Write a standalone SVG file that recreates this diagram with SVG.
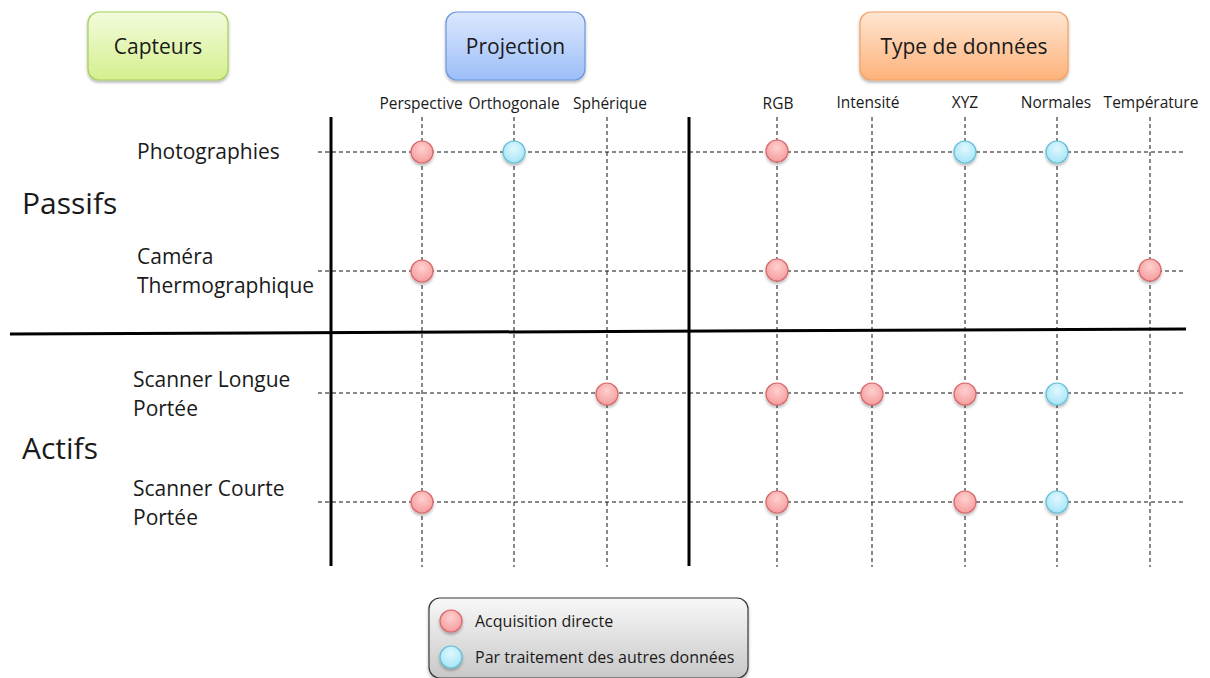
<svg xmlns="http://www.w3.org/2000/svg" width="1210" height="678" viewBox="0 0 1210 678">
<defs>
<linearGradient id="gGreen" x1="0" y1="0" x2="0" y2="1"><stop offset="0" stop-color="#f3fbdc"/><stop offset="1" stop-color="#d4f08e"/></linearGradient>
<linearGradient id="gBlue" x1="0" y1="0" x2="0" y2="1"><stop offset="0" stop-color="#dbe8fe"/><stop offset="1" stop-color="#9dbef8"/></linearGradient>
<linearGradient id="gOrange" x1="0" y1="0" x2="0" y2="1"><stop offset="0" stop-color="#ffe6d2"/><stop offset="1" stop-color="#fdb27a"/></linearGradient>
<linearGradient id="gGray" x1="0" y1="0" x2="0" y2="1"><stop offset="0" stop-color="#f8f8f8"/><stop offset="1" stop-color="#c8c8c8"/></linearGradient>
<radialGradient id="gRed" cx="0.5" cy="0.35" r="0.65"><stop offset="0" stop-color="#ffd0d0"/><stop offset="1" stop-color="#f59c9c"/></radialGradient>
<radialGradient id="gCyan" cx="0.5" cy="0.35" r="0.65"><stop offset="0" stop-color="#e0f8ff"/><stop offset="1" stop-color="#a6e4f6"/></radialGradient>
<filter id="sh" x="-30%" y="-30%" width="160%" height="170%"><feDropShadow dx="0" dy="2" stdDeviation="1.6" flood-color="#000" flood-opacity="0.3"/></filter>
</defs>
<style>
text{font-family:"Open Sans","Liberation Sans",sans-serif;fill:#1a1a1a}
.hdr{font-size:21px}
.col{font-size:15.5px}
.row{font-size:21px}
.big{font-size:30px}
.leg{font-size:16px}
.dash{stroke:#111;stroke-width:1;stroke-dasharray:4 3;fill:none}
.thick{stroke:#000;stroke-width:3;fill:none}
.red{fill:url(#gRed);stroke:#d9686c;stroke-width:1.2;filter:url(#sh)}
.cyan{fill:url(#gCyan);stroke:#62c0d8;stroke-width:1.2;filter:url(#sh)}
.box{stroke-width:1.2;filter:url(#sh)}
</style>
<g id="header-capteurs"><rect class="box" x="88" y="12" width="140" height="68" rx="11" fill="url(#gGreen)" stroke="#a6cf5a"/><text class="hdr" x="158" y="54" text-anchor="middle">Capteurs</text></g>
<g id="header-projection"><rect class="box" x="446" y="12" width="139" height="68" rx="11" fill="url(#gBlue)" stroke="#6d95e0"/><text class="hdr" x="515.5" y="54" text-anchor="middle">Projection</text></g>
<g id="header-type"><rect class="box" x="860" y="12" width="208" height="68" rx="11" fill="url(#gOrange)" stroke="#f2a065"/><text class="hdr" x="964" y="54" text-anchor="middle">Type de données</text></g>
<g id="column-labels">
<text class="col" x="421" y="109" text-anchor="middle">Perspective</text>
<text class="col" x="514" y="109" text-anchor="middle">Orthogonale</text>
<text class="col" x="610" y="109" text-anchor="middle">Sphérique</text>
<text class="col" x="778" y="109" text-anchor="middle">RGB</text>
<text class="col" x="868" y="108" text-anchor="middle">Intensité</text>
<text class="col" x="965" y="108" text-anchor="middle">XYZ</text>
<text class="col" x="1056" y="108" text-anchor="middle">Normales</text>
<text class="col" x="1151" y="108" text-anchor="middle">Température</text>
</g>
<g id="row-labels">
<text class="big" x="22" y="214">Passifs</text>
<text class="big" x="22" y="459">Actifs</text>
<text class="row" x="137" y="159">Photographies</text>
<text class="row" x="137" y="264">Caméra</text>
<text class="row" x="137" y="293">Thermographique</text>
<text class="row" x="133" y="387">Scanner Longue</text>
<text class="row" x="133" y="416">Portée</text>
<text class="row" x="133" y="496">Scanner Courte</text>
<text class="row" x="133" y="525">Portée</text>
</g>
<g id="connectors">
<path class="dash" d="M318 152H1185M318 271H1185M318 393H1185M318 502H1185"/>
<path class="dash" d="M422 117V567M514 117V567M607 117V567M777 117V567M872 117V567M965 117V567M1057 117V567M1150 117V567"/>
<path class="thick" d="M331 117V566M689 117V566"/>
<path class="thick" d="M10 334L1186 329"/>
</g>
<g id="marks">
<circle class="red" cx="422" cy="152" r="11"/>
<circle class="cyan" cx="514" cy="152" r="11"/>
<circle class="red" cx="777" cy="151" r="11"/>
<circle class="cyan" cx="965" cy="152" r="11"/>
<circle class="cyan" cx="1057" cy="152" r="11"/>
<circle class="red" cx="422" cy="271" r="11"/>
<circle class="red" cx="777" cy="270" r="11"/>
<circle class="red" cx="1150" cy="270" r="11"/>
<circle class="red" cx="607" cy="394" r="11"/>
<circle class="red" cx="777" cy="394" r="11"/>
<circle class="red" cx="872" cy="394" r="11"/>
<circle class="red" cx="965" cy="394" r="11"/>
<circle class="cyan" cx="1057" cy="394" r="11"/>
<circle class="red" cx="422" cy="502" r="11"/>
<circle class="red" cx="777" cy="502" r="11"/>
<circle class="red" cx="965" cy="502" r="11"/>
<circle class="cyan" cx="1057" cy="502" r="11"/>
</g>
<g id="legend">
<rect class="box" x="429" y="598" width="319" height="80" rx="11" fill="url(#gGray)" stroke="#3a3a3a"/>
<circle class="red" cx="451" cy="621" r="11"/>
<circle class="cyan" cx="451" cy="657" r="11"/>
<text class="leg" x="475" y="627">Acquisition directe</text>
<text class="leg" x="475" y="663">Par traitement des autres données</text>
</g>
</svg>
